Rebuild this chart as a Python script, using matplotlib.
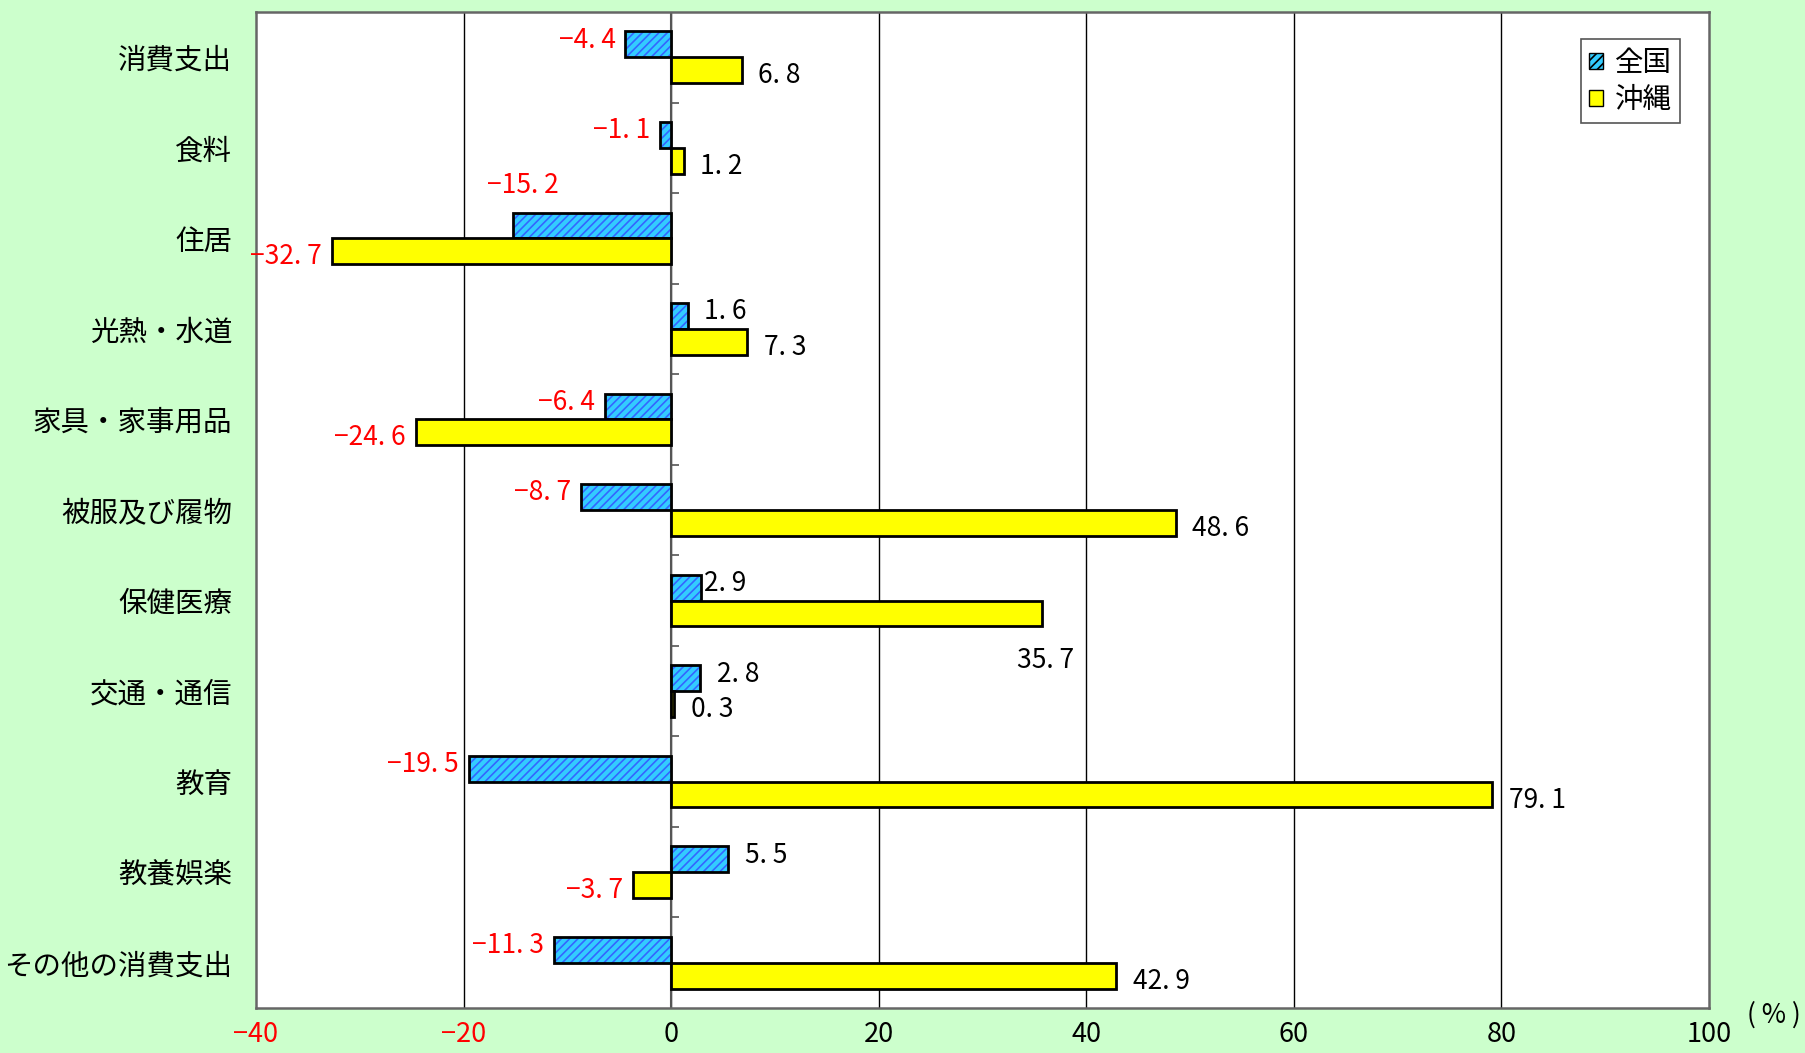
import numpy as np
import matplotlib
matplotlib.use('Agg')
import matplotlib.pyplot as plt
from matplotlib.patches import Patch

plt.rcParams['font.family'] = ['Noto Sans CJK JP', 'DejaVu Sans']
plt.rcParams['hatch.linewidth'] = 1.2

# data
categories = ['消費支出', '食料', '住居', '光熱・水道', '家具・家事用品', '被服及び履物',
              '保健医療', '交通・通信', '教育', '教養娯楽', 'その他の消費支出']
zenkoku = [-4.4, -1.1, -15.2, 1.6, -6.4, -8.7, 2.9, 2.8, -19.5, 5.5, -11.3]
okinawa = [6.8, 1.2, -32.7, 7.3, -24.6, 48.6, 35.7, 0.3, 79.1, -3.7, 42.9]
series_names = ['全国', '沖縄']
xticks = [-40, -20, 0, 20, 40, 60, 80, 100]

BG = '#CCFFCC'
BLUE = '#33CCFF'
HATCH = '#3366FF'
YELLOW = '#FFFF00'

fig = plt.figure(figsize=(18.05, 10.53), dpi=100, facecolor=BG)
ax = fig.add_axes([256/1805, 1-1008/1053, (1709-256)/1805, (1008-12)/1053])
ax.set_facecolor('white')

y = np.arange(len(categories))
h = 0.285

# 全国: hatched fill then black outline
ax.barh(y - h/2, zenkoku, height=h, color=BLUE, edgecolor=HATCH, hatch='////', linewidth=0, zorder=3)
ax.barh(y - h/2, zenkoku, height=h, fill=False, edgecolor='black', linewidth=2, zorder=4)
ax.barh(y + h/2, okinawa, height=h, color=YELLOW, edgecolor='black', linewidth=2, zorder=4)

ax.set_xlim(-40, 100)
ax.set_ylim(len(categories) - 0.5, -0.5)

# grid and zero axis
for xv in xticks[1:-1]:
    ax.axvline(xv, color='black', lw=1, zorder=1)
ax.vlines(0, -0.5, len(categories) - 0.5, color='#555555', lw=1.5, zorder=2)
ax.hlines(np.arange(len(categories) - 1) + 0.5, 0, 0.75, color='#555555', lw=1.2, zorder=2)

for s in ax.spines.values():
    s.set_color('#666666')
    s.set_linewidth(1.8)

ax.set_yticks(y)
ax.set_yticklabels(categories, fontsize=20.5)
ax.tick_params(axis='y', length=0, pad=17)
ax.set_xticks(xticks)
ax.set_xticklabels([str(v).replace('-', '−') for v in xticks], fontsize=19.5)
ax.tick_params(axis='x', length=0, pad=9)
for lbl, v in zip(ax.get_xticklabels(), xticks):
    if v < 0:
        lbl.set_color('red')

fig.text(1774/1805, 1 - 1015/1053, '( % )', fontsize=19, ha='center', va='center')


def fmt(v):
    s = f'{abs(v):.1f}'.replace('.', '. ')
    return ('−' + s) if v < 0 else s


# special label nudges (points)
nudge = {('z', 2): (40, 26), ('o', 6): (-30, -30), ('z', 6): (-10, 0)}

for series, vals, dy in (('z', zenkoku, 3), ('o', okinawa, -4)):
    off = -h/2 if series == 'z' else h/2
    for i, v in enumerate(vals):
        dx = 12 if v >= 0 else -7
        ndx, ndy = nudge.get((series, i), (0, 0))
        ax.annotate(fmt(v), (v, i + off), xytext=(dx + ndx, dy + ndy), textcoords='offset points',
                    ha='left' if v >= 0 else 'right', va='center', fontsize=19,
                    color='red' if v < 0 else 'black', zorder=5, annotation_clip=False)

handles = [Patch(facecolor=BLUE, edgecolor='black', hatch='////', label=series_names[0]),
           Patch(facecolor=YELLOW, edgecolor='black', label=series_names[1])]
leg = ax.legend(handles=handles, loc='upper right', bbox_to_anchor=(0.99, 0.987), fontsize=20.5,
                handlelength=0.5, handleheight=0.5, handletextpad=0.4, borderpad=0.3,
                borderaxespad=0.5, fancybox=False, framealpha=1, edgecolor='#555555',
                labelspacing=0.25)
leg.get_frame().set_linewidth(1.2)

fig.savefig('out.png', dpi=100, facecolor=BG)
